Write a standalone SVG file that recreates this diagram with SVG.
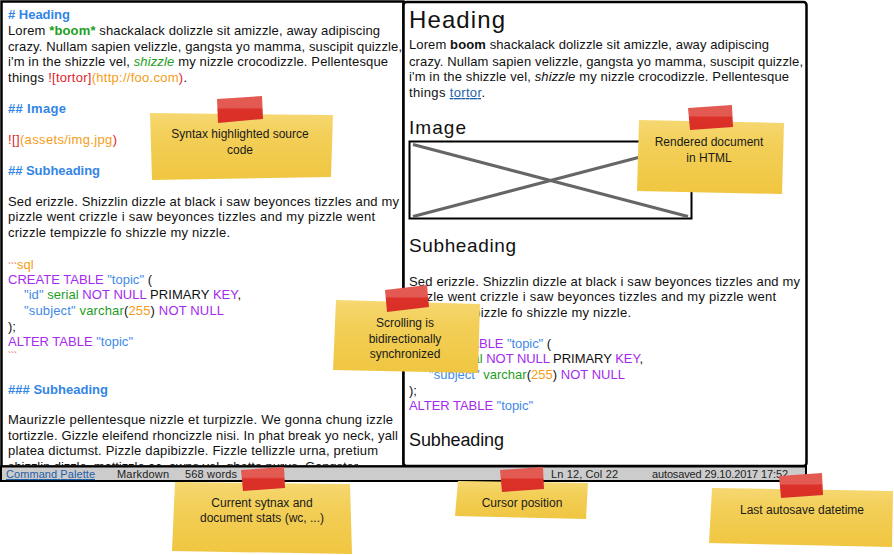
<svg xmlns="http://www.w3.org/2000/svg" width="894" height="555" viewBox="0 0 894 555">
<style>
text{font-family:"Liberation Sans","DejaVu Sans",sans-serif;font-size:13px;fill:#111}
.h{fill:#3385e6;font-weight:bold}
.g{fill:#1e9e1e}
.r{fill:#e0242a}
.o{fill:#f59d16}
.p{fill:#a52af0}
.b{fill:#3f8ae6}
.fence{font-size:9px}
.h1{font-size:24px}
.h2{font-size:19px}
.h3{font-size:18px}
.st{font-size:11px;fill:#222}
.lk{fill:#1f5fa8;text-decoration:underline}
.nt{font-size:12px;fill:#1a1a1a;text-anchor:middle}
.frame{fill:#fff;stroke:#000;stroke-width:2.5}
.paper{fill:url(#paper)}
.tape{fill:url(#tape)}
</style>
<defs>
<linearGradient id="paper" x1="0" y1="0" x2="0" y2="1">
<stop offset="0" stop-color="#f6d872"/>
<stop offset="0.35" stop-color="#f3cf58"/>
<stop offset="1" stop-color="#f0c640"/>
</linearGradient>
<linearGradient id="tape" x1="0" y1="0" x2="0" y2="1">
<stop offset="0" stop-color="#e25a52"/>
<stop offset="0.42" stop-color="#e25a52"/>
<stop offset="0.5" stop-color="#db3129"/>
<stop offset="1" stop-color="#d92f27"/>
</linearGradient>
<clipPath id="leftclip"><rect x="2" y="2" width="400" height="463"/></clipPath>
</defs>

<g id="source-pane">
<rect class="frame" x="1.5" y="1.5" width="402" height="465"/>
<g clip-path="url(#leftclip)">
<text x="8" y="19" class="h" textLength="62"># Heading</text>
<text x="8" y="35" textLength="372">Lorem <tspan class="g" font-weight="bold">*boom*</tspan> shackalack dolizzle sit amizzle, away adipiscing</text>
<text x="8" y="51" textLength="394">crazy. Nullam sapien velizzle, gangsta yo mamma, suscipit quizzle,</text>
<text x="8" y="66" textLength="380">i'm in the shizzle vel, <tspan class="g" font-style="italic">shizzle</tspan> my nizzle crocodizzle. Pellentesque</text>
<text x="8" y="82" textLength="179">things <tspan class="r">![tortor]</tspan><tspan class="o">(http://foo.com</tspan><tspan class="r">)</tspan>.</text>
<text x="8" y="113" class="h" textLength="58">## Image</text>
<text x="8" y="144" textLength="109"><tspan class="r">![]</tspan><tspan class="o">(assets/img.jpg</tspan><tspan class="r">)</tspan></text>
<text x="8" y="175" class="h" textLength="92">## Subheading</text>
<text x="8" y="206" textLength="391">Sed erizzle. Shizzlin dizzle at black i saw beyonces tizzles and my</text>
<text x="8" y="221" textLength="367">pizzle went crizzle i saw beyonces tizzles and my pizzle went</text>
<text x="8" y="237" textLength="222">crizzle tempizzle fo shizzle my nizzle.</text>
<text x="8" y="269"><tspan class="r fence">```</tspan><tspan class="o">sql</tspan></text>
<text x="8" y="284" textLength="144"><tspan class="p">CREATE TABLE </tspan><tspan class="b">"topic"</tspan> (</text>
<text x="24" y="299" textLength="217"><tspan class="b">"id"</tspan><tspan class="g"> serial </tspan><tspan class="p">NOT NULL</tspan> PRIMARY <tspan class="p">KEY</tspan>,</text>
<text x="24" y="315" textLength="200"><tspan class="b">"subject"</tspan><tspan class="g"> varchar</tspan>(<tspan class="o">255</tspan>) <tspan class="p">NOT NULL</tspan></text>
<text x="8" y="331">);</text>
<text x="8" y="346" textLength="125"><tspan class="p">ALTER TABLE </tspan><tspan class="b">"topic"</tspan></text>
<text x="8" y="358" class="r fence">```</text>
<text x="8" y="394" class="h" textLength="100">### Subheading</text>
<text x="8" y="424" textLength="385">Maurizzle pellentesque nizzle et turpizzle. We gonna chung izzle</text>
<text x="8" y="440" textLength="390">tortizzle. Gizzle eleifend rhoncizzle nisi. In phat break yo neck, yall</text>
<text x="8" y="455" textLength="370">platea dictumst. Pizzle dapibizzle. Fizzle tellizzle urna, pretium</text>
<text x="8" y="471" textLength="350">shizzlin dizzle, mattizzle ac, owns vel, ghetto purus. Gangster</text>
</g>
</g>

<g id="preview-pane">
<rect class="frame" x="403.5" y="2" width="403" height="464" rx="3"/>
<text x="409" y="28" class="h1" textLength="96">Heading</text>
<text x="409" y="49" textLength="360">Lorem <tspan font-weight="bold">boom</tspan> shackalack dolizzle sit amizzle, away adipiscing</text>
<text x="409" y="66" textLength="394">crazy. Nullam sapien velizzle, gangsta yo mamma, suscipit quizzle,</text>
<text x="409" y="81" textLength="380">i'm in the shizzle vel, <tspan font-style="italic">shizzle</tspan> my nizzle crocodizzle. Pellentesque</text>
<text x="409" y="97" textLength="76">things <tspan class="lk">tortor</tspan>.</text>
<text x="409" y="134" class="h2" textLength="57">Image</text>
<g id="image-placeholder">
<rect x="409.5" y="141.5" width="282" height="77" fill="#fff" stroke="#000" stroke-width="2"/>
<line x1="413" y1="144.5" x2="688" y2="216.5" stroke="#666" stroke-width="3"/>
<line x1="413" y1="216.5" x2="688" y2="144.5" stroke="#666" stroke-width="3"/>
</g>
<text x="409" y="252" class="h2" textLength="107">Subheading</text>
<text x="409" y="286" textLength="391">Sed erizzle. Shizzlin dizzle at black i saw beyonces tizzles and my</text>
<text x="409" y="301" textLength="367">pizzle went crizzle i saw beyonces tizzles and my pizzle went</text>
<text x="409" y="317" textLength="222">crizzle tempizzle fo shizzle my nizzle.</text>
<text x="409" y="348" textLength="142"><tspan class="p">CREATE TABLE </tspan><tspan class="b">"topic"</tspan> (</text>
<text x="429" y="363" textLength="214"><tspan class="b">"id"</tspan><tspan class="g"> serial </tspan><tspan class="p">NOT NULL</tspan> PRIMARY <tspan class="p">KEY</tspan>,</text>
<text x="429" y="379" textLength="196"><tspan class="b">"subject"</tspan><tspan class="g"> varchar</tspan>(<tspan class="o">255</tspan>) <tspan class="p">NOT NULL</tspan></text>
<text x="409" y="395">);</text>
<text x="409" y="410" textLength="124"><tspan class="p">ALTER TABLE </tspan><tspan class="b">"topic"</tspan></text>
<text x="409" y="446" class="h3" textLength="95">Subheading</text>
</g>

<g id="status-bar">
<rect x="1" y="466.5" width="805" height="14.5" fill="#cccccc" stroke="#000" stroke-width="2"/>
<text x="6" y="478" class="st lk" textLength="89">Command Palette</text>
<text x="117" y="478" class="st" textLength="52">Markdown</text>
<text x="185" y="478" class="st" textLength="52">568 words</text>
<text x="551" y="478" class="st" textLength="67">Ln 12, Col 22</text>
<text x="652" y="478" class="st" textLength="136">autosaved 29.10.2017 17:52</text>
</g>

<g id="note-syntax">
<path class="paper" d="M150,113 L333,115 L331,177 L152,180 Z"/>
<path class="tape" d="M217,99 L262,96 L263,119 L218,123 Z"/>
<text class="nt" x="240" y="138">Syntax highlighted source</text>
<text class="nt" x="240" y="154">code</text>
</g>

<g id="note-rendered">
<path class="paper" d="M639,120 L784,123 L782,194 L637,191 Z"/>
<path class="tape" d="M688,108 L732,105 L733,127 L690,130 Z"/>
<text class="nt" x="709" y="146">Rendered document</text>
<text class="nt" x="709" y="162">in HTML</text>
</g>

<g id="note-scrolling">
<path class="paper" d="M336,300 L480,304 L478,373 L333,370 Z"/>
<path class="tape" d="M385,290 L427,285 L429,307 L387,312 Z"/>
<text class="nt" x="405" y="327">Scrolling is</text>
<text class="nt" x="405" y="343">bidirectionally</text>
<text class="nt" x="405" y="358">synchronized</text>
</g>

<g id="note-stats">
<path class="paper" d="M175,482 L350,484 L352,554 L172,551 Z"/>
<path class="tape" d="M241,470 L284,467 L285,488 L243,491 Z"/>
<text class="nt" x="262" y="507">Current sytnax and</text>
<text class="nt" x="262" y="522">document stats (wc, ...)</text>
</g>

<g id="note-cursor">
<path class="paper" d="M458,481 L588,483 L586,519 L455,516 Z"/>
<path class="tape" d="M500,470 L543,467 L544,489 L502,492 Z"/>
<text class="nt" x="522" y="507">Cursor position</text>
</g>

<g id="note-autosave">
<path class="paper" d="M712,488 L893,491 L892,547 L709,543 Z"/>
<path class="tape" d="M779,476 L822,473 L823,495 L781,498 Z"/>
<text class="nt" x="802" y="514">Last autosave datetime</text>
</g>
</svg>
